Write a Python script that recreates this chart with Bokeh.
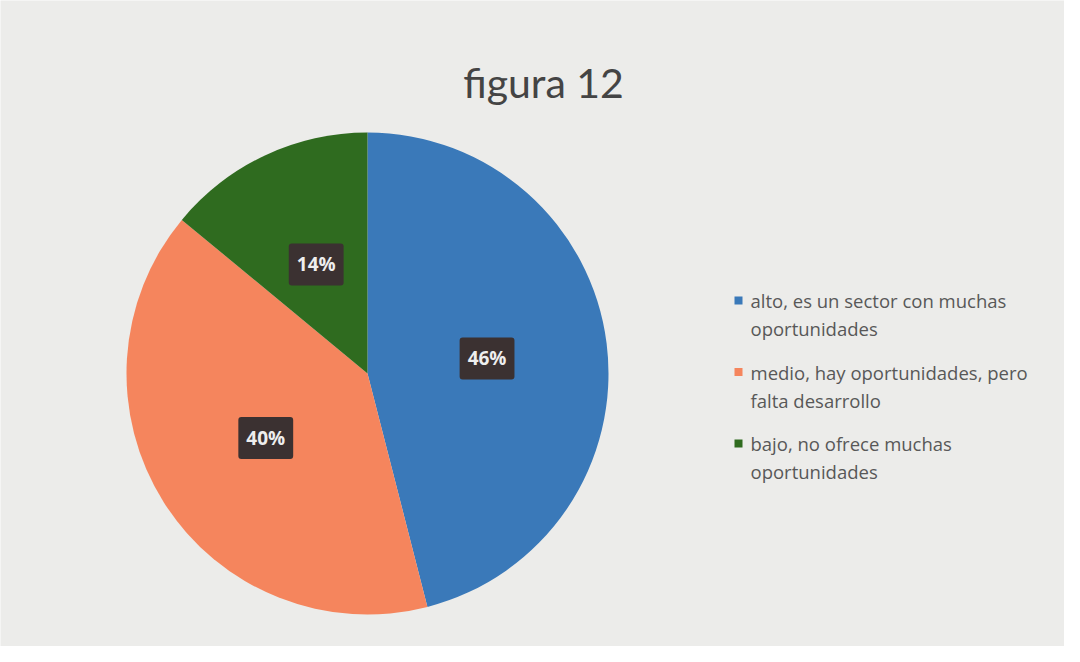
import numpy as np
from bokeh.plotting import figure
from bokeh.models import Range1d, ColumnDataSource
from bokeh.core.properties import value
from bokeh.embed import file_html
from bokeh.resources import INLINE

# ---- data ----
categories = [
    "alto, es un sector con muchas\noportunidades",
    "medio, hay oportunidades, pero\nfalta desarrollo",
    "bajo, no ofrece muchas\noportunidades",
]
shares = [46, 40, 14]
labels = ["46%", "40%", "14%"]
colors = ["#3a79b9", "#f5855d", "#2f6b1f"]
title = "figura 12"

W, H = 1064, 646
p = figure(width=W, height=H, output_backend="svg", toolbar_location=None,
           x_range=Range1d(0, W), y_range=Range1d(0, H), min_border=0,
           background_fill_color="#ececea", border_fill_color="#ececea")
p.axis.visible = False
p.grid.visible = False
p.outline_line_color = None

# pie layout
cx, cy, R = 367, 273, 241
fr = np.array(shares, dtype=float) / sum(shares)
cum = np.concatenate([[0], np.cumsum(fr)])
start = np.pi / 2 - 2 * np.pi * cum[:-1]
end = np.pi / 2 - 2 * np.pi * cum[1:]
mid = (start + end) / 2

src = ColumnDataSource(dict(start=start, end=end, color=colors))
p.wedge(x=cx, y=cy, radius=R, start_angle="start", end_angle="end",
        direction="clock", fill_color="color", line_color=None, source=src)

lr = 0.5 * R
lsrc = ColumnDataSource(dict(x=cx + lr * np.cos(mid), y=cy + lr * np.sin(mid), t=labels))
p.text(x="x", y="y", text="t", source=lsrc, text_align="center", text_baseline="middle",
       text_font=value("Open Sans"), text_font_style="bold", text_font_size="19px",
       text_color="#eeeeee", background_fill_color="#3b3131", padding=8,
       border_radius=3)

# title
p.text(x=[543], y=[H - 82], text=[title], text_align="center", text_baseline="middle",
       text_font=value("Lato"), text_font_size="41px", text_color="#444444")

# legend (manual)
lx, ly0, step, lh = 738, H - 300, 71.5, 28
mk_x, mk_y, tx, ty, tt = [], [], [], [], []
for i, cat in enumerate(categories):
    y0 = ly0 - i * step
    mk_x.append(lx)
    mk_y.append(y0)
    for j, line in enumerate(cat.split("\n")):
        tx.append(lx + 12)
        ty.append(y0 - j * lh)
        tt.append(line)
p.scatter(x=mk_x, y=mk_y, marker="square", size=8, fill_color=colors, line_color=None)
p.text(x=tx, y=ty, text=tt, text_align="left", text_baseline="middle",
       text_font=value("Open Sans"), text_font_size="18.5px", text_color="#585858")

open("out.html", "w").write(file_html(p, INLINE))
